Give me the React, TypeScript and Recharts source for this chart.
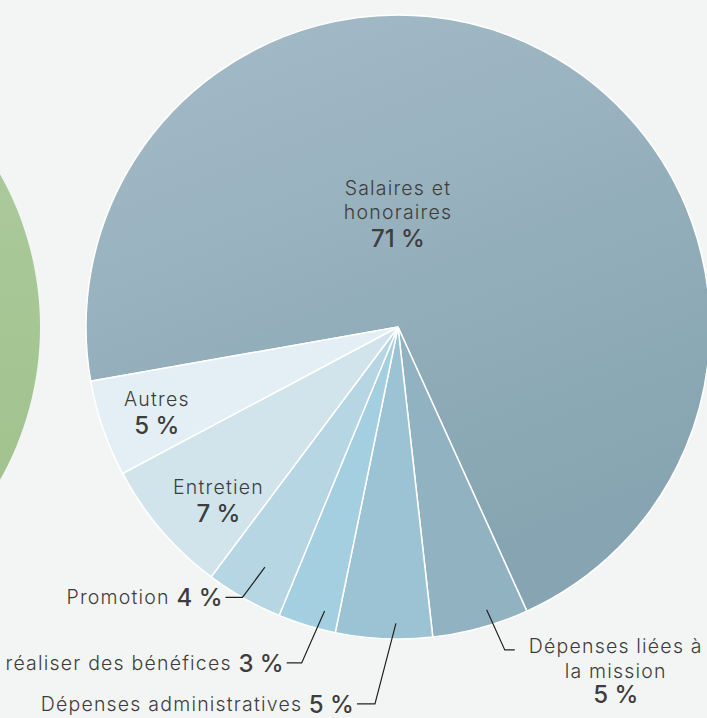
import React from 'react';
import { PieChart, Pie, Cell } from 'recharts';

const CATEGORIES = [
  'Salaires et honoraires',
  'Dépenses liées à la mission',
  'Dépenses administratives',
  'réaliser des bénéfices',
  'Promotion',
  'Entretien',
  'Autres',
];
const VALUES = [71, 5, 5, 3, 4, 7, 5];

// the neighbouring (cut off) chart on the left
const LEFT_CATEGORIES = ['Produits'];
const LEFT_VALUES = [100];

const FILLS = [
  'url(#gradSalaires)',
  '#91b2c1',
  '#9cc3d3',
  '#a3cfe0',
  '#b6d6e3',
  '#d1e4ec',
  '#e3eff4',
];

const data = CATEGORIES.map((name, i) => ({ name, value: VALUES[i] }));
const leftData = LEFT_CATEGORIES.map((name, i) => ({ name, value: LEFT_VALUES[i] }));

const FONT = 'Inter, "Open Sans", sans-serif';
const TEXT = '#3d3d3d';
const NAME_SIZE = 19.5;
const PCT_SIZE = 24;
const SPACING = 1.2;
const RADIAN = Math.PI / 180;

// label layout for each slice (angles are offsets from the slice's mid angle)
const LABELS: any[] = [
  { mode: 'inside', angle: 90, r: 0.365, lines: ['Salaires et', 'honoraires'] },
  { mode: 'stack', r0: 0.95, a0: 2, r1: 1.09, a1: 2.9, h: 10, lines: ['Dépenses liées à', 'la mission'] },
  { mode: 'out', r0: 0.95, a0: 2.2, r1: 1.21, a1: -0.9, h: 18, lines: ['Dépenses administratives'] },
  { mode: 'out', r0: 0.94, a0: 2.5, r1: 1.12, a1: 1, h: 15, lines: ['réaliser des bénéfices'] },
  { mode: 'out', r0: 0.88, a0: 0.6, r1: 1.0, a1: -0.3, h: 17, lines: ['Promotion'] },
  { mode: 'inside', da: 3.4, r: 0.8, lines: ['Entretien'] },
  { mode: 'inside', da: 0.5, r: 0.82, lines: ['Autres'] },
];

const polar = (cx: number, cy: number, r: number, angle: number) => ({
  x: cx + r * Math.cos(-angle * RADIAN),
  y: cy + r * Math.sin(-angle * RADIAN),
});

const nameProps = { fontFamily: FONT, fontSize: NAME_SIZE, fontWeight: 300, fill: TEXT, letterSpacing: SPACING };
const pctProps = { fontFamily: FONT, fontSize: PCT_SIZE, fontWeight: 500, fill: TEXT };

const renderLabel = (props: any) => {
  const { cx, cy, midAngle, outerRadius, index, value } = props;
  const cfg = LABELS[index];
  const pct = `${value} %`;
  if (cfg.mode === 'inside') {
    const p = polar(cx, cy, outerRadius * cfg.r, cfg.angle ?? midAngle + (cfg.da || 0));
    const n = cfg.lines.length;
    const top = p.y - ((n - 1) * 24 + 27) / 2;
    return (
      <g key={`lbl-${index}`}>
        {cfg.lines.map((l: string, i: number) => (
          <text key={i} x={p.x} y={top + i * 24} textAnchor="middle" dominantBaseline="central" {...nameProps}>{l}</text>
        ))}
        <text x={p.x} y={top + (n - 1) * 24 + 27} textAnchor="middle" dominantBaseline="central" {...pctProps}>{pct}</text>
      </g>
    );
  }
  const a = polar(cx, cy, outerRadius * cfg.r0, midAngle + cfg.a0);
  const b = polar(cx, cy, outerRadius * cfg.r1, midAngle + cfg.a1);
  if (cfg.mode === 'stack') {
    const ex = b.x + cfg.h;
    const tx = ex + 101;
    return (
      <g key={`lbl-${index}`}>
        <polyline points={`${a.x},${a.y} ${b.x},${b.y} ${ex},${b.y}`} fill="none" stroke="#222" strokeWidth={1.2} />
        {cfg.lines.map((l: string, i: number) => (
          <text key={i} x={tx} y={b.y - 4 + i * 25} textAnchor="middle" dominantBaseline="central" {...nameProps}>{l}</text>
        ))}
        <text x={tx} y={b.y - 5 + cfg.lines.length * 25} textAnchor="middle" dominantBaseline="central" {...pctProps}>{pct}</text>
      </g>
    );
  }
  const ex = b.x - cfg.h;
  return (
    <g key={`lbl-${index}`}>
      <polyline points={`${a.x},${a.y} ${b.x},${b.y} ${ex},${b.y}`} fill="none" stroke="#222" strokeWidth={1.2} />
      <text x={ex - 3} y={b.y} textAnchor="end" dominantBaseline="central" fontFamily={FONT} fill={TEXT}>
        <tspan fontSize={NAME_SIZE} fontWeight={300} letterSpacing={SPACING}>{cfg.lines[0]} </tspan>
        <tspan fontSize={PCT_SIZE} fontWeight={500}>{pct}</tspan>
      </text>
    </g>
  );
};

export default function App() {
  return (
    <div style={{ position: 'absolute', left: 0, top: 0, width: 707, height: 718, background: '#f3f5f4' }}>
      <PieChart width={707} height={718} margin={{ top: 0, right: 0, bottom: 0, left: 0 }}>
        <defs>
          <linearGradient id="gradSalaires" x1="0" y1="0" x2="0.4" y2="1">
            <stop offset="0%" stopColor="#a5bcc8" />
            <stop offset="100%" stopColor="#86a4b1" />
          </linearGradient>
          <linearGradient id="gradLeft" x1="0" y1="0" x2="0" y2="1">
            <stop offset="0%" stopColor="#b0cca2" />
            <stop offset="100%" stopColor="#9cc086" />
          </linearGradient>
        </defs>
        <Pie
          data={leftData}
          dataKey="value"
          nameKey="name"
          cx={-272}
          cy={327}
          outerRadius={312}
          stroke="none"
          isAnimationActive={false}
        >
          <Cell fill="url(#gradLeft)" />
        </Pie>
        <Pie
          data={data}
          dataKey="value"
          nameKey="name"
          cx={398}
          cy={327}
          outerRadius={312}
          startAngle={190}
          endAngle={-170}
          stroke="#ffffff"
          strokeWidth={1.5}
          label={renderLabel}
          labelLine={false}
          isAnimationActive={false}
        >
          {data.map((entry, i) => (
            <Cell key={`cell-${i}`} fill={FILLS[i]} />
          ))}
        </Pie>
      </PieChart>
    </div>
  );
}
